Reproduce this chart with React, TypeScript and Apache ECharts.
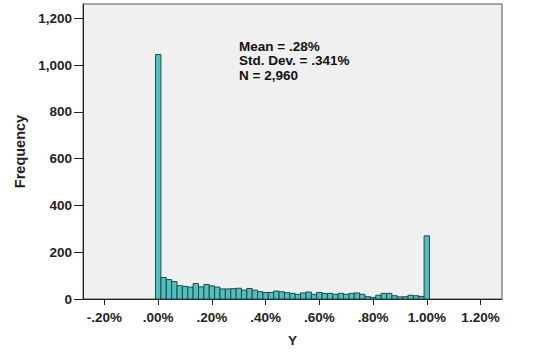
import React, { useEffect, useRef } from "react";
import * as echarts from "echarts";

const binCenters = [
  0.0, 0.02, 0.04, 0.06, 0.08, 0.1, 0.12, 0.14, 0.16, 0.18,
  0.2, 0.22, 0.24, 0.26, 0.28, 0.3, 0.32, 0.34, 0.36, 0.38,
  0.4, 0.42, 0.44, 0.46, 0.48, 0.5, 0.52, 0.54, 0.56, 0.58,
  0.6, 0.62, 0.64, 0.66, 0.68, 0.7, 0.72, 0.74, 0.76, 0.78,
  0.8, 0.82, 0.84, 0.86, 0.88, 0.9, 0.92, 0.94, 0.96, 0.98,
  1.0,
];
const frequencies = [
  1045, 92, 83, 75, 57, 54, 51, 66, 52, 62,
  56, 51, 43, 43, 44, 46, 38, 45, 38, 31,
  28, 28, 34, 31, 27, 24, 20, 26, 30, 20,
  28, 24, 24, 20, 24, 20, 24, 26, 20, 10,
  7, 16, 24, 24, 14, 9, 10, 16, 14, 11,
  270,
];
const xTicks = [-0.2, 0, 0.2, 0.4, 0.6, 0.8, 1.0, 1.2];
const yTicks = [0, 200, 400, 600, 800, 1000, 1200];
const statsLines = ["Mean = .28%", "Std. Dev. = .341%", "N = 2,960"];
const BIN_WIDTH = 0.02;

const FONT = "'Liberation Sans', Arial, sans-serif";

function fmtPct(v: number): string {
  let s = Math.abs(v).toFixed(2);
  if (s.startsWith("0")) s = s.slice(1);
  return (v < 0 ? "-" : "") + s + "%";
}

export default function App() {
  const ref = useRef<HTMLDivElement>(null);
  useEffect(() => {
    document.body.style.margin = "0";
    const chart = echarts.init(ref.current!, null, { renderer: "svg" });
    const data = binCenters.map((x, i) => [x, frequencies[i]]);
    chart.setOption({
      animation: false,
      backgroundColor: "#ffffff",
      grid: {
        left: 83,
        right: 33,
        top: 4,
        bottom: 65,
        show: true,
        backgroundColor: "#f0f0f0",
        borderColor: "#555555",
        borderWidth: 1,
      },
      xAxis: {
        type: "value",
        min: -0.28,
        max: 1.28,
        name: "Y",
        nameLocation: "middle",
        nameGap: 34,
        nameTextStyle: { fontFamily: FONT, fontWeight: "bold", fontSize: 13.5, color: "#222" },
        axisLine: { onZero: false, lineStyle: { color: "#222", width: 1 } },
        axisTick: { show: true, length: 6, customValues: xTicks, lineStyle: { color: "#222" } },
        axisLabel: {
          customValues: xTicks,
          formatter: (v: number) => fmtPct(v),
          fontFamily: FONT,
          fontWeight: "bold",
          fontSize: 13.5,
          color: "#222",
          margin: 11,
        },
        splitLine: { show: false },
      },
      yAxis: {
        type: "value",
        min: 0,
        max: 1261,
        name: "Frequency",
        nameLocation: "middle",
        nameGap: 54,
        nameRotate: 90,
        nameTextStyle: { fontFamily: FONT, fontWeight: "bold", fontSize: 14.5, color: "#222" },
        axisLine: { show: true, onZero: false, lineStyle: { color: "#222", width: 1 } },
        axisTick: { show: true, length: 9, customValues: yTicks, lineStyle: { color: "#222" } },
        axisLabel: {
          customValues: yTicks,
          formatter: (v: number) => v.toLocaleString("en-US"),
          fontFamily: FONT,
          fontWeight: "bold",
          fontSize: 13.5,
          color: "#222",
          margin: 11,
        },
        splitLine: { show: false },
      },
      graphic: statsLines.map((t, i) => ({
        type: "text",
        left: 239,
        top: 39 + i * 14.5,
        style: {
          text: t,
          font: `bold 13.5px ${FONT}`,
          fill: "#111",
        },
      })),
      series: [
        {
          type: "custom",
          data,
          renderItem: (params: any, api: any) => {
            const x = api.value(0);
            const y = api.value(1);
            const p0 = api.coord([x - BIN_WIDTH / 2, 0]);
            const p1 = api.coord([x + BIN_WIDTH / 2, y]);
            return {
              type: "rect",
              shape: { x: p0[0], y: p1[1], width: p1[0] - p0[0], height: p0[1] - p1[1] },
              style: { fill: "#52bfbf", stroke: "#1f4a4a", lineWidth: 1 },
            };
          },
        },
      ],
    });
    return () => chart.dispose();
  }, []);
  return <div ref={ref} style={{ width: 535, height: 364 }} />;
}
